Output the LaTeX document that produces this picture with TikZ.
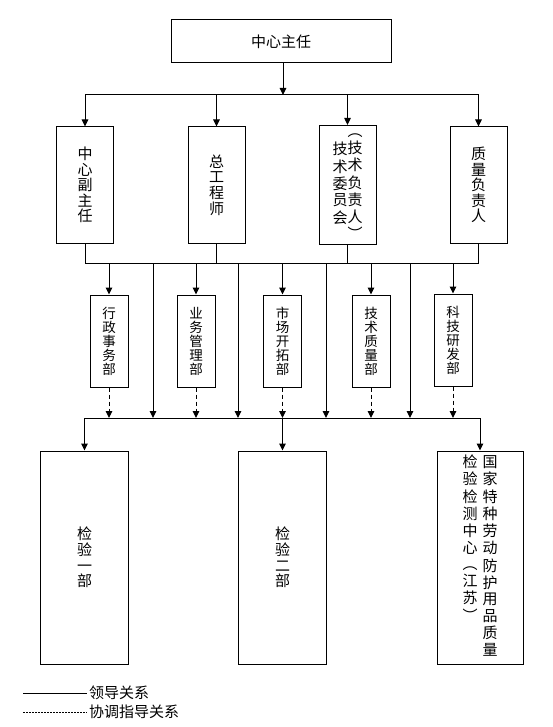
\documentclass[tikz,border=0pt]{standalone}
\usepackage{fontspec}
\setmainfont{Noto Sans CJK SC}
\usetikzlibrary{arrows.meta, positioning}

\begin{document}
\begin{tikzpicture}[
  x=1pt, y=-1pt,
  box/.style={rectangle, draw, line width=1pt, inner sep=0pt, align=center},
  head/.style={box, minimum width=220pt, minimum height=43pt, font=\fontsize{15}{18}\selectfont},
  leader/.style={box, minimum width=57pt, minimum height=116pt, font=\fontsize{15}{15.6}\selectfont},
  dept/.style={box, minimum width=38pt, minimum height=92pt, font=\fontsize{13.5}{14}\selectfont},
  lab/.style={box, minimum width=88pt, minimum height=213pt, font=\fontsize{15}{15.8}\selectfont},
  arr/.style={-{Triangle[length=7pt,width=6.5pt]}, line width=1pt},
  guidearr/.style={arr, dash pattern=on 4pt off 3pt},
  link/.style={line width=1pt},
  every node/.style={font=\fontsize{15}{18}\selectfont}
]
  \useasboundingbox (0,0) rectangle (553,727);

  % leadership
  \node[head] (director) at (281,41.5) {中心主任};
  \node[leader] (vice) at (85,185) {中\\心\\副\\主\\任};
  \node[leader] (chief) at (216.5,185) {总\\工\\程\\师};
  \node[leader] (techcom) at (347.5,185) {\begin{tabular}[c]{@{}c@{}}技\\术\\委\\员\\会\end{tabular}\begin{tabular}[c]{@{}c@{}}︵\\技\\术\\负\\责\\人\\︶\end{tabular}};
  \node[leader] (quality) at (478.5,185) {质\\量\\负\\责\\人};

  % departments
  \node[dept] (admin) at (109,341) {行\\政\\事\\务\\部};
  \node[dept] (business) at (196,341) {业\\务\\管\\理\\部};
  \node[dept] (market) at (282.5,341) {市\\场\\开\\拓\\部};
  \node[dept] (techq) at (371,341) {技\\术\\质\\量\\部};
  \node[dept] (research) at (453,340) {科\\技\\研\\发\\部};

  % labs
  \node[lab] (lab1) at (84.5,557.5) {检\\验\\一\\部};
  \node[lab] (lab2) at (282.5,557.5) {检\\验\\二\\部};
  \node[lab, minimum width=86pt] (natlab) at (480,557.5) {\begin{tabular}[t]{@{}c@{}}检\\验\\检\\测\\中\\心\\︵\\江\\苏\\︶\end{tabular}\hspace{5pt}\begin{tabular}[t]{@{}c@{}}国\\家\\特\\种\\劳\\动\\防\\护\\用\\品\\质\\量\end{tabular}};

  % buses
  \coordinate (bus1) at (283,95);
  \coordinate (bus2) at (0,263);
  \coordinate (bus3) at (0,418);

  \draw[arr] (director.south -| bus1) -- (bus1);
  \draw[link] (vice.north |- bus1) -- (quality.north |- bus1);
  \foreach \n in {vice, chief, techcom, quality}
    \draw[arr] (\n.north |- bus1) -- (\n.north);

  \draw[link] (vice.south |- bus2) -- (quality.south |- bus2);
  \foreach \n in {vice, chief, techcom, quality}
    \draw[link] (\n.south) -- (\n.south |- bus2);
  \foreach \n in {admin, business, market, techq, research} {
    \draw[arr] (\n.north |- bus2) -- (\n.north);
    \draw[guidearr] (\n.south) -- (\n.south |- bus3);
  }
  \foreach \x in {153,238,326,410}
    \draw[arr] (\x,0 |- bus2) -- (\x,0 |- bus3);

  \draw[link] (lab1.north |- bus3) -- (natlab.north |- bus3);
  \foreach \n in {lab1, lab2, natlab}
    \draw[arr] (\n.north |- bus3) -- (\n.north);

  % legend
  \node[anchor=west, inner sep=2pt] (lead) at (87,693) {领导关系};
  \node[anchor=west, inner sep=2pt] (guide) at (87,712) {协调指导关系};
  \coordinate (leadstart) at (23,693);
  \coordinate (guidestart) at (23,712);
  \draw[line width=0.8pt] (leadstart) -- (lead.west);
  \draw[line width=0.6pt, dash pattern=on 2pt off 1pt] (guidestart) -- (guide.west);
\end{tikzpicture}
\end{document}
